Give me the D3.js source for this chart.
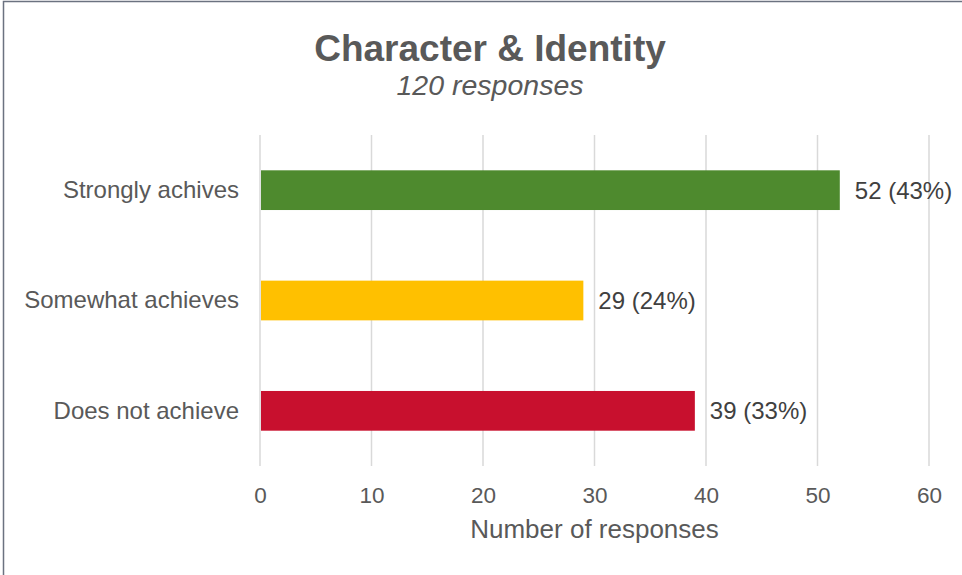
<!DOCTYPE html>
<html>
<head>
<meta charset="utf-8">
<script src="https://cdn.jsdelivr.net/npm/d3@7"></script>
<style>
  body { margin: 0; background: #fff; }
  svg { display: block; font-family: "Liberation Sans", Arial, sans-serif; }
</style>
</head>
<body>
<main></main>
<script>
const categories = ["Strongly achives", "Somewhat achieves", "Does not achieve"];
const counts = [52, 29, 39];
const percents = [43, 24, 33];
const barColors = ["#4e8a2e", "#ffc000", "#c8102e"];
const xTicks = [0, 10, 20, 30, 40, 50, 60];

const width = 962;
const height = 575;
const margin = { top: 135, right: 33, bottom: 109, left: 260 };
const fontFamily = "'Liberation Sans', Arial, sans-serif";

const svg = d3.select("main").append("svg").attr("width", width).attr("height", height);

// frame
svg.append("path")
  .attr("d", `M3.5,${height} V1.5 H${width}`)
  .attr("fill", "none")
  .attr("stroke", "#6b7280")
  .attr("stroke-width", 1.5);

svg.append("text")
  .attr("x", 490)
  .attr("y", 61)
  .attr("text-anchor", "middle")
  .style("font-size", "37px")
  .style("font-weight", "bold")
  .style("fill", "#595959")
  .text("Character & Identity");

svg.append("text")
  .attr("x", 490)
  .attr("y", 95)
  .attr("text-anchor", "middle")
  .style("font-size", "28.5px")
  .style("font-style", "italic")
  .style("fill", "#595959")
  .text("120 responses");

const xScale = d3.scaleLinear()
  .domain([0, 60])
  .range([margin.left, width - margin.right]);

const yScale = d3.scaleBand()
  .domain(categories)
  .range([margin.top, height - margin.bottom])
  .paddingInner(0.64)
  .paddingOuter(0.32);

// grid
svg.append("g")
  .selectAll("line")
  .data(xTicks)
  .enter()
  .append("line")
  .attr("x1", (d) => xScale(d))
  .attr("x2", (d) => xScale(d))
  .attr("y1", margin.top)
  .attr("y2", height - margin.bottom)
  .attr("stroke", "#d9d9d9")
  .attr("stroke-width", 1.5);

const xAxis = d3.axisBottom(xScale).tickValues(xTicks).tickSize(0).tickPadding(21);
const gx = svg.append("g")
  .attr("transform", `translate(0, ${height - margin.bottom})`)
  .call(xAxis);
gx.select(".domain").remove();
gx.selectAll("text")
  .style("font-size", "22.5px")
  .style("font-family", fontFamily)
  .attr("fill", "#595959");

const yAxis = d3.axisLeft(yScale).tickSize(0).tickPadding(21);
const gy = svg.append("g")
  .attr("transform", `translate(${margin.left}, 0)`)
  .call(yAxis);
gy.select(".domain").remove();
gy.selectAll("text")
  .style("font-size", "24px")
  .style("font-family", fontFamily)
  .attr("fill", "#595959");

svg.append("text")
  .attr("x", xScale(30))
  .attr("y", 538)
  .attr("text-anchor", "middle")
  .style("font-size", "26px")
  .style("fill", "#595959")
  .text("Number of responses");

const rows = categories.map((c, i) => ({ cat: c, count: counts[i], pct: percents[i], color: barColors[i] }));

svg.selectAll("rect.bar")
  .data(rows)
  .enter()
  .append("rect")
  .attr("class", "bar")
  .attr("x", xScale(0) + 1)
  .attr("y", (d) => yScale(d.cat))
  .attr("width", (d) => xScale(d.count) - xScale(0) - 1)
  .attr("height", yScale.bandwidth())
  .attr("fill", (d) => d.color);

svg.selectAll("text.value")
  .data(rows)
  .enter()
  .append("text")
  .attr("class", "value")
  .attr("x", (d) => xScale(d.count) + 15)
  .attr("y", (d) => yScale(d.cat) + yScale.bandwidth() / 2)
  .attr("dy", "0.35em")
  .style("font-size", "24px")
  .style("fill", "#404040")
  .text((d) => `${d.count} (${d.pct}%)`);
</script>
</body>
</html>
